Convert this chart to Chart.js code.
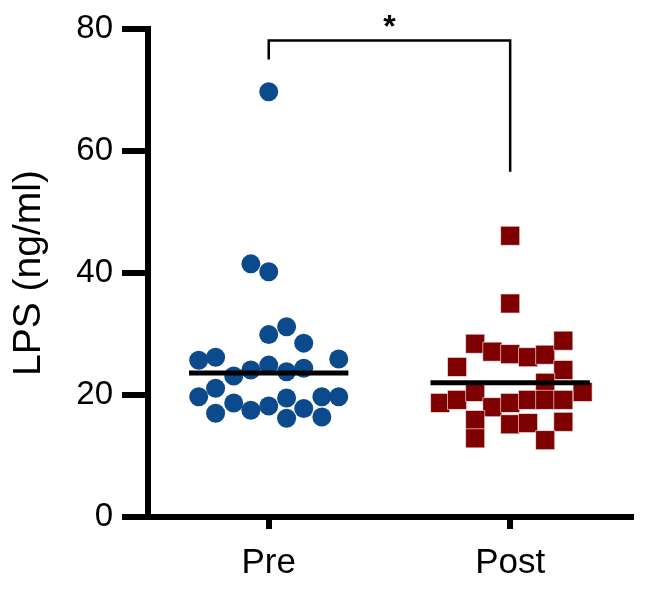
<!DOCTYPE html>
<html>
<head>
<meta charset="utf-8">
<script src="https://cdn.jsdelivr.net/npm/chart.js@4"></script>
<style>
  html, body { margin: 0; padding: 0; background: #fff; }
  #wrap { width: 645px; height: 590px; }
</style>
</head>
<body>
<div id="wrap"><canvas id="lpsChart" width="645" height="590"></canvas></div>
<script>
// Groups and tick labels
const groups = ['Pre', 'Post'];
const yTicks = [0, 20, 40, 60, 80];

// LPS values (ng/ml)
const preValues = [69.7, 41.5, 40.2, 31.2, 29.9, 28.5, 25.7, 26.2, 25.9, 23.1, 24.1, 24.9, 23.8, 24.4,
                   19.7, 21.1, 19.7, 19.7, 18.7, 17.5, 18.2, 19.5, 17.0, 16.2, 17.8, 16.4];
const preJitter = [0, -0.074, 0, 0.074, 0, 0.145, -0.29, -0.22, 0.29, -0.145, -0.074, 0, 0.074, 0.145,
                   -0.29, -0.22, 0.29, 0.22, -0.145, -0.074, 0, 0.074, -0.22, 0.074, 0.145, 0.22];

const postValues = [46.1, 35.0, 28.4, 27.1, 26.7, 26.2, 26.6, 28.9, 24.6, 24.1, 22.0, 20.5,
                    18.7, 19.2, 20.5, 18.0, 18.7, 19.2, 19.2, 19.2, 15.9, 15.2, 15.4, 15.6, 12.9, 12.6];
const postJitter = [0, 0, -0.145, -0.074, 0, 0.074, 0.145, 0.22, -0.22, 0.22, 0.145, 0.3,
                    -0.29, -0.22, -0.145, -0.074, 0, 0.074, 0.145, 0.22, -0.145, 0, 0.074, 0.22, -0.145, 0.145];

// horizontal line per group
const groupLines = [23.6, 22.0];

// significance bracket
const bracketX = [1, 1, 2, 2];
const bracketY = [75, 78.1, 78.1, 56.6];
const bracketLabel = '*';

const FONT = '"Liberation Sans", Arial, Helvetica, sans-serif';

function toPoints(values, jitter, center) {
    return values.map((v, i) => ({ x: center + jitter[i], y: v }));
}

function lineFor(center, value) {
    return [{ x: center - 0.33, y: value }, { x: center + 0.33, y: value }];
}

// draws the star above the bracket
const starPlugin = {
    id: 'star',
    afterDatasetsDraw(chart) {
        const { ctx, scales } = chart;
        const x = scales.x.getPixelForValue((bracketX[1] + bracketX[2]) / 2);
        const y = scales.y.getPixelForValue(bracketY[1]);
        ctx.save();
        ctx.fillStyle = '#000';
        ctx.font = 'bold 32px ' + FONT;
        ctx.textAlign = 'center';
        ctx.textBaseline = 'alphabetic';
        ctx.fillText(bracketLabel, x, y - 4);
        ctx.restore();
    }
};

const data = {
    datasets: [
        {
            type: 'line',
            data: lineFor(1, groupLines[0]),
            borderColor: '#000',
            borderWidth: 5,
            pointRadius: 0,
            order: 0
        },
        {
            type: 'line',
            data: lineFor(2, groupLines[1]),
            borderColor: '#000',
            borderWidth: 5,
            pointRadius: 0,
            order: 0
        },
        {
            type: 'line',
            data: bracketX.map((x, i) => ({ x: x, y: bracketY[i] })),
            borderColor: '#000',
            borderWidth: 2.5,
            pointRadius: 0,
            clip: false,
            order: 0
        },
        {
            label: groups[0],
            data: toPoints(preValues, preJitter, 1),
            pointStyle: 'circle',
            pointRadius: 9.5,
            backgroundColor: '#0b4a8c',
            borderWidth: 0,
            order: 1
        },
        {
            label: groups[1],
            data: toPoints(postValues, postJitter, 2),
            pointStyle: 'rect',
            pointRadius: 13.5,
            backgroundColor: '#7e0000',
            borderColor: '#fff',
            borderWidth: 0.6,
            order: 1
        }
    ]
};

const config = {
    type: 'scatter',
    data: data,
    plugins: [starPlugin],
    options: {
        responsive: false,
        animation: false,
        layout: { padding: { top: 29, right: 8, left: 0, bottom: 0 } },
        plugins: {
            legend: { display: false },
            tooltip: { enabled: false }
        },
        scales: {
            x: {
                type: 'linear',
                min: 0.5,
                max: 2.5,
                afterBuildTicks: scale => {
                    scale.ticks = groups.map((g, i) => ({ value: i + 1 }));
                },
                afterFit: scale => { scale.height = 73; },
                ticks: {
                    callback: v => groups[v - 1],
                    color: '#000',
                    font: { family: FONT, size: 35 },
                    padding: 13,
                    maxRotation: 0
                },
                grid: {
                    drawOnChartArea: false,
                    drawTicks: true,
                    tickLength: 12,
                    lineWidth: 6,
                    color: '#000'
                },
                border: { display: true, width: 6, color: '#000' }
            },
            y: {
                min: 0,
                max: 80,
                afterBuildTicks: scale => {
                    scale.ticks = yTicks.map(v => ({ value: v }));
                },
                afterFit: scale => { scale.width = 148; },
                ticks: {
                    color: '#000',
                    font: { family: FONT, size: 33 },
                    padding: 9
                },
                grid: {
                    drawOnChartArea: false,
                    drawTicks: true,
                    tickLength: 26,
                    lineWidth: 6,
                    color: '#000'
                },
                border: { display: true, width: 6, color: '#000' },
                title: {
                    display: true,
                    text: 'LPS (ng/ml)',
                    color: '#000',
                    font: { family: FONT, size: 39 },
                    padding: { top: 6, bottom: 0 }
                }
            }
        }
    }
};

const ctx = document.getElementById('lpsChart').getContext('2d');
new Chart(ctx, config);
</script>
</body>
</html>
